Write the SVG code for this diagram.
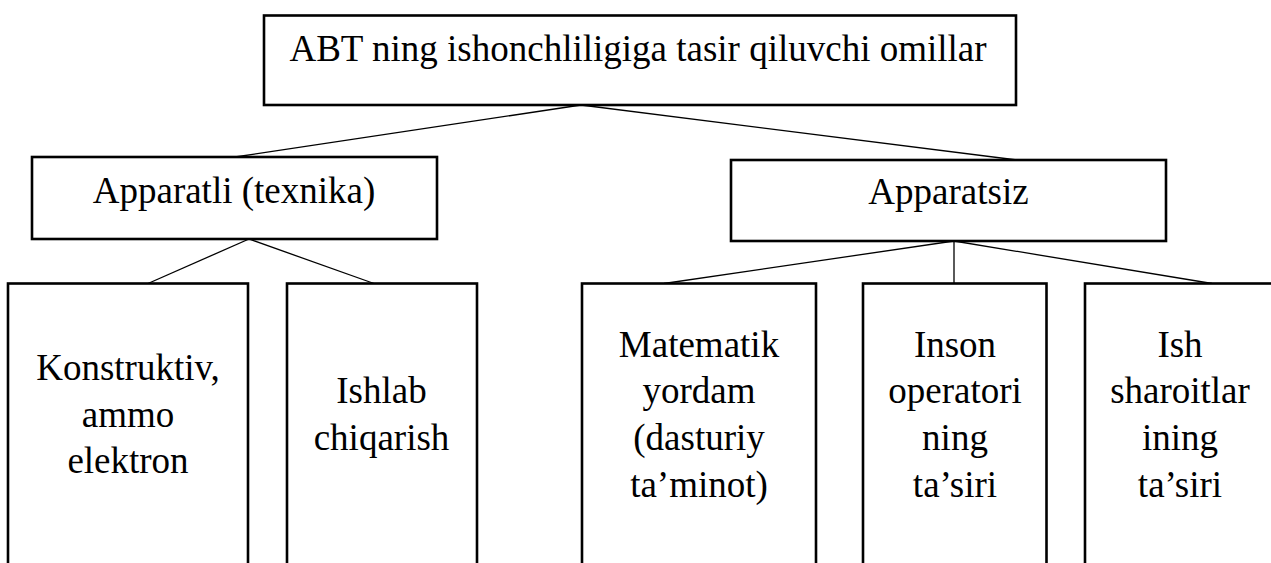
<svg xmlns="http://www.w3.org/2000/svg" width="1271" height="563" viewBox="0 0 1271 563">
<style>
.box{fill:#fff;stroke:#000;stroke-width:2.6}
.t{font-family:"Liberation Serif","Times New Roman",serif;font-size:37px;fill:#000;text-anchor:middle}
.c{stroke:#000;stroke-width:1.3;fill:none}
</style>
<rect width="1271" height="563" fill="#fff"/>
<g id="connectors">
<line class="c" x1="581" y1="105" x2="235" y2="157"/>
<line class="c" x1="581" y1="105" x2="1017" y2="160"/>
<line class="c" x1="249" y1="239" x2="148" y2="283.5"/>
<line class="c" x1="249" y1="239" x2="374" y2="283.5"/>
<line class="c" x1="954" y1="241" x2="664" y2="283.5"/>
<line class="c" x1="954" y1="241" x2="954" y2="283.5"/>
<line class="c" x1="954" y1="241" x2="1212" y2="283.5"/>
</g>
<g id="root">
<rect class="box" x="264" y="15.5" width="752" height="89.5"/>
<text class="t" x="638" y="61">ABT ning ishonchliligiga tasir qiluvchi omillar</text>
</g>
<g id="apparatli">
<rect class="box" x="32" y="157" width="405" height="82"/>
<text class="t" x="234" y="203">Apparatli (texnika)</text>
</g>
<g id="apparatsiz">
<rect class="box" x="731" y="160" width="435" height="81"/>
<text class="t" x="948.5" y="204">Apparatsiz</text>
</g>
<g id="konstruktiv">
<rect class="box" x="8" y="283.5" width="240" height="300"/>
<text class="t" x="128" y="380">Konstruktiv,</text>
<text class="t" x="128" y="426.5">ammo</text>
<text class="t" x="128" y="473">elektron</text>
</g>
<g id="ishlab">
<rect class="box" x="287" y="283.5" width="190" height="300"/>
<text class="t" x="381.5" y="403">Ishlab</text>
<text class="t" x="381.5" y="450">chiqarish</text>
</g>
<g id="matematik">
<rect class="box" x="582" y="283.5" width="234" height="300"/>
<text class="t" x="699" y="357">Matematik</text>
<text class="t" x="699" y="403">yordam</text>
<text class="t" x="699" y="450">(dasturiy</text>
<text class="t" x="699" y="496.5">ta’minot)</text>
</g>
<g id="inson">
<rect class="box" x="863" y="283.5" width="183.5" height="300"/>
<text class="t" x="955" y="357">Inson</text>
<text class="t" x="955" y="403">operatori</text>
<text class="t" x="955" y="450">ning</text>
<text class="t" x="955" y="496.5">ta’siri</text>
</g>
<g id="ish">
<rect class="box" x="1085" y="283.5" width="195" height="300"/>
<text class="t" x="1180" y="357">Ish</text>
<text class="t" x="1180" y="403">sharoitlar</text>
<text class="t" x="1180" y="450">ining</text>
<text class="t" x="1180" y="496.5">ta’siri</text>
</g>
</svg>
